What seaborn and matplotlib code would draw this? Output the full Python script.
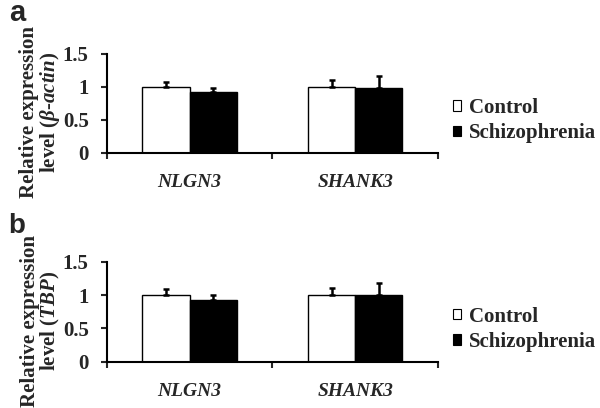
import pandas as pd
import matplotlib
matplotlib.use("Agg")
import matplotlib.pyplot as plt
import seaborn as sns

# values
genes = ["NLGN3", "SHANK3"]
groups = ["Control", "Schizophrenia"]
actin_mean = [1.00, 0.92, 1.00, 0.99]   # NLGN3 ctrl, NLGN3 scz, SHANK3 ctrl, SHANK3 scz
actin_err = [0.08, 0.07, 0.10, 0.17]
tbp_mean = [1.00, 0.92, 1.00, 1.00]
tbp_err = [0.09, 0.08, 0.11, 0.18]
yticks = [0, 0.5, 1, 1.5]
ytick_labels = ["0", "0.5", "1", "1.5"]


def make_df(means, errs):
    rows = []
    i = 0
    for g in genes:
        for grp in groups:
            rows.append({"gene": g, "group": grp, "value": means[i], "err": errs[i]})
            i += 1
    return pd.DataFrame(rows)


sns.set_style("white")
plt.rcParams["font.family"] = ["Liberation Serif", "DejaVu Serif"]
plt.rcParams["font.weight"] = "bold"
plt.rcParams["mathtext.fontset"] = "custom"
plt.rcParams["mathtext.it"] = "Liberation Serif:italic:bold"
plt.rcParams["mathtext.rm"] = "Liberation Serif:bold"
plt.rcParams["mathtext.bf"] = "Liberation Sans:bold"   # panel letters

fig = plt.figure(figsize=(6, 4.08), dpi=100)
ax_a = fig.add_axes([0.178, 0.625, 0.552, 0.243])
ax_b = fig.add_axes([0.178, 0.1135, 0.552, 0.245])


def draw_panel(ax, df, ylabel):
    sns.barplot(data=df, x="gene", y="value", hue="group", order=genes,
                hue_order=groups, palette=["white", "black"], edgecolor="black",
                linewidth=1, width=0.57, errorbar=None, ax=ax)

    # upper-only error bars at the bar centres
    xs, ys = [], []
    for cont in ax.containers:
        for bar in cont:
            xs.append(bar.get_x() + bar.get_width() / 2)
            ys.append(bar.get_height())
    errs = []
    for grp in groups:
        for g in genes:
            errs.append(df[(df.gene == g) & (df.group == grp)]["err"].iloc[0])
    ax.errorbar(xs, ys, yerr=[[0] * len(errs), errs], fmt="none", ecolor="black",
                elinewidth=1.8, capsize=2, capthick=1.8, zorder=1)

    old = ax.get_legend()
    handles = old.legend_handles
    labels = [t.get_text() for t in old.get_texts()]
    old.remove()
    for h in handles:
        h.set_edgecolor("black")
        h.set_linewidth(0.8)
    ax.legend(handles, labels, loc="center left", bbox_to_anchor=(1.045, 0.325),
              frameon=False, handlelength=0.4, handleheight=0.4,
              handletextpad=0.35, labelspacing=0.25, borderpad=0, borderaxespad=0,
              prop={"weight": "bold", "size": 15})

    ax.set_ylim(0, 1.5)
    ax.set_xlim(-0.5, 1.5)
    ax.set_yticks(yticks)
    ax.set_yticklabels(ytick_labels, fontsize=15, fontweight="bold")
    ax.set_xticks([0, 1])
    ax.set_xticklabels(genes, fontsize=14, fontweight="bold", fontstyle="italic")
    ax.set_xticks([-0.5, 0.5, 1.5], minor=True)
    ax.tick_params(axis="x", which="major", length=0, pad=15)
    ax.tick_params(axis="x", which="minor", length=4, width=1.5, direction="out",
                   bottom=True)
    ax.tick_params(axis="y", length=4, width=1.5, direction="out", left=True, pad=9)
    ax.set_xlabel("")
    ax.set_ylabel(ylabel, fontsize=15, fontweight="bold", linespacing=0.95)
    ax.yaxis.set_label_coords(-0.136, 0.41)
    sns.despine(ax=ax)
    for s in ["left", "bottom"]:
        ax.spines[s].set_linewidth(1.5)
        ax.spines[s].set_color("black")


draw_panel(ax_a, make_df(actin_mean, actin_err),
           "Relative expression\nlevel ($\\mathit{\\beta}$-$\\mathit{actin}$)")
draw_panel(ax_b, make_df(tbp_mean, tbp_err),
           "Relative expression\nlevel ($\\mathit{TBP}$)")

# panel letters via mathtext so the text box hugs the glyph
fig.text(0.015, 1 - 21 / 408, "$\\mathbf{a}$", fontsize=21, va="baseline")
fig.text(0.013, 1 - 233 / 408, "$\\mathbf{b}$", fontsize=20, va="baseline")

fig.savefig("out.png", dpi=100, facecolor="white")
